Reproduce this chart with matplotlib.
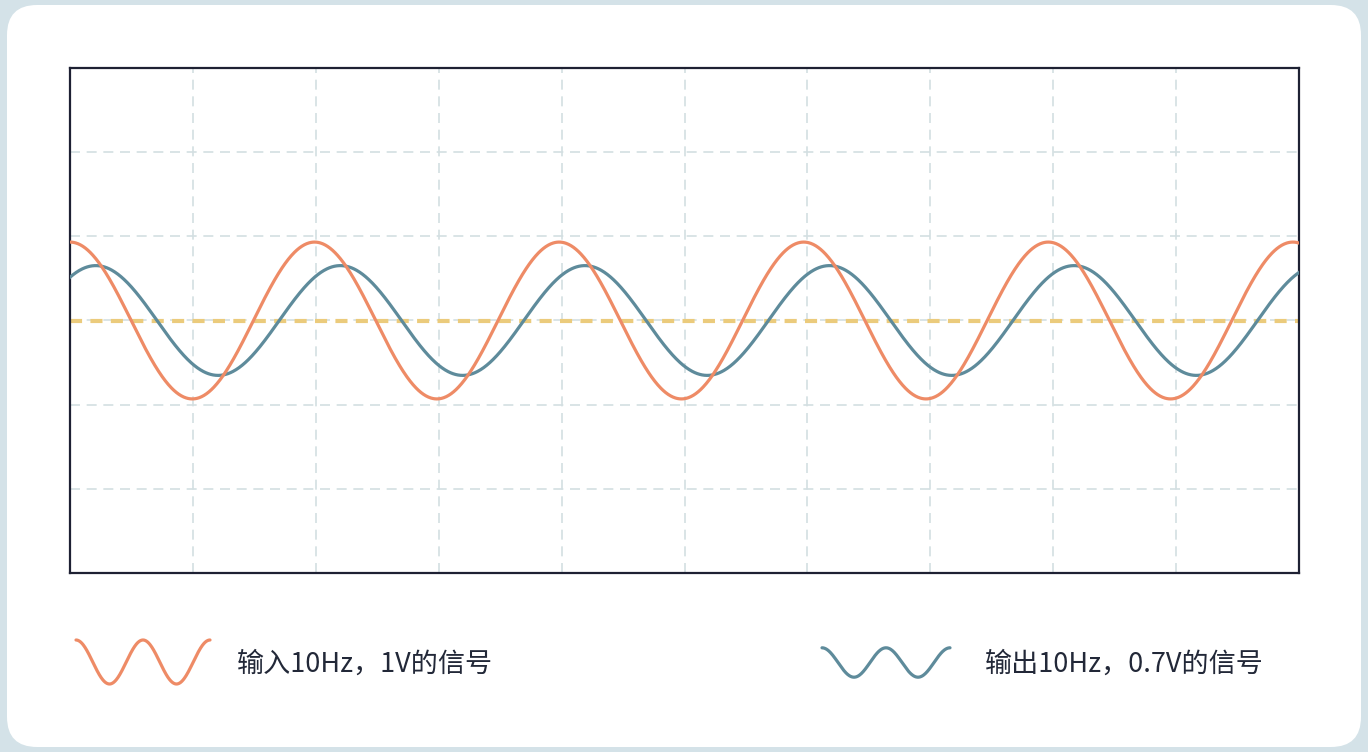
import numpy as np
import matplotlib.pyplot as plt
from matplotlib.patches import FancyBboxPatch

plt.rcParams['font.family'] = ['Noto Sans CJK SC', 'DejaVu Sans']

# signal settings
freq_hz = 10
in_amp = 1.0
out_amp = 0.7
out_lag_deg = 38
x_max = 0.5025
y_max = 3.22
n_xdiv = 10
n_ydiv = 6
labels = ['输入10Hz，1V的信号', '输出10Hz，0.7V的信号']

c_in = '#ee8b66'
c_out = '#5e8b9b'
c_zero = '#ebcb7c'
c_grid = '#d3dfe2'
c_frame = '#1e2133'
c_text = '#222838'
c_bg = '#d4e2e8'

W, H = 1368, 752
fig = plt.figure(figsize=(W / 100, H / 100), dpi=100)
fig.patch.set_facecolor(c_bg)

card = FancyBboxPatch((7 / W, 5 / H), (W - 14) / W, (H - 10) / H,
                      boxstyle='round,pad=0,rounding_size=0.022',
                      transform=fig.transFigure, facecolor='white',
                      edgecolor='none', mutation_aspect=W / H, zorder=-10)
fig.patches.append(card)

ax = fig.add_axes([70 / W, (H - 573) / H, 1229 / W, 505 / H])
ax.set_facecolor('none')

t = np.linspace(0, x_max, 2000)
v_in = in_amp * np.cos(2 * np.pi * freq_hz * t)
v_out = out_amp * np.cos(2 * np.pi * freq_hz * t - np.deg2rad(out_lag_deg))

xt = np.linspace(0, x_max, n_xdiv + 1)[1:-1]
yt = np.linspace(-y_max, y_max, n_ydiv + 1)[1:-1]
for x in xt:
    ax.axvline(x, color=c_grid, lw=1.2, ls=(0, (6, 4)), zorder=1)
for y in yt:
    ax.axhline(y, color=c_grid, lw=1.2, ls=(0, (6, 4)), zorder=1)

ax.axhline(0, color=c_zero, lw=3, ls=(0, (2.9, 2.0)), zorder=2)
ax.plot(t, v_out, color=c_out, lw=2.3, zorder=3)
ax.plot(t, v_in, color=c_in, lw=2.3, zorder=4)

ax.set_xlim(0, x_max)
ax.set_ylim(-y_max, y_max)
ax.set_xticks([])
ax.set_yticks([])
for s in ax.spines.values():
    s.set_color(c_frame)
    s.set_linewidth(1.6)

# legend glyphs
s = np.linspace(0, 2 * 2 * np.pi, 300)
lax = fig.add_axes([0, 0, 1, 1])
lax.set_xlim(0, W)
lax.set_ylim(H, 0)
lax.axis('off')
lax.plot(76 + s / (4 * np.pi) * 134, 662 - 22 * in_amp * np.cos(s), color=c_in, lw=2.3,
         solid_capstyle='round')
lax.plot(822 + s / (4 * np.pi) * 128, 662.5 - 21 * out_amp * np.cos(s), color=c_out, lw=2.3,
         solid_capstyle='round')
lax.text(237, 664, labels[0], fontsize=19.5, color=c_text, va='center', ha='left')
lax.text(985, 664, labels[1], fontsize=19.5, color=c_text, va='center', ha='left')

fig.savefig('out.png', dpi=100, facecolor=fig.get_facecolor())
